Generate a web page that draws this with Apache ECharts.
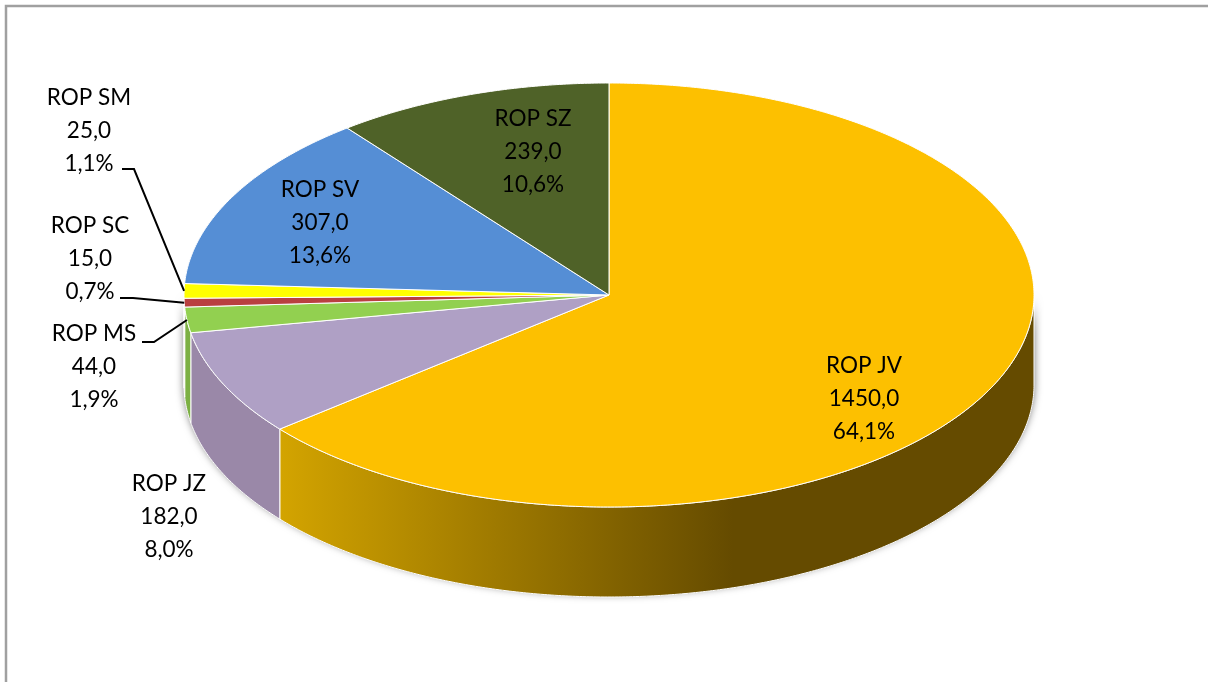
<!DOCTYPE html>
<html>
<head>
<meta charset="utf-8">
<style>
  html, body { margin: 0; padding: 0; background: #fff; }
  #chart { width: 1208px; height: 682px; }
</style>
<script src="https://cdn.jsdelivr.net/npm/echarts@6/dist/echarts.min.js"></script>
</head>
<body>
<div id="chart"></div>
<script>
const categories = ['ROP JV', 'ROP JZ', 'ROP MS', 'ROP SC', 'ROP SM', 'ROP SV', 'ROP SZ']
const values = [1450, 182, 44, 15, 25, 307, 239]

const topColors = ['#fdc000', '#afa0c5', '#92d050', '#b94040', '#ffff00', '#558ed5', '#4f6228']
const wallColors = ['#fdc000', '#9a88a8', '#7cb043', '#a03636', '#dcdc00', '#4a7cba', '#445522']

// block centres of the labels, and the elbow of the leader line when there is one
const labelPos = [[864, 399], [169, 517], [94, 367], [90, 259], [89, 131], [320, 223], [533, 152]]
const leaderStart = [null, null, [142, 342], [120, 298], [122, 169], null, null]
const leaderElbow = [null, null, [154, 342], [133, 298], [134, 169], null, null]

// ellipse of the tilted pie
const cx = 609
const cy = 295
const rx = 425
const ry = 212
const depth = 90

const total = values.reduce((a, b) => a + b, 0)

// slice start/end angles, clockwise from 12 o'clock, in radians
const angles = []
let acc = 0
values.forEach((v) => {
  const start = (acc / total) * Math.PI * 2
  acc += v
  angles.push([start, (acc / total) * Math.PI * 2])
})

const rim = (t, dy = 0) => [cx + rx * Math.sin(t), cy - ry * Math.cos(t) + dy]

const arc = (from, to, dy = 0) => {
  const steps = Math.max(2, Math.ceil(Math.abs(to - from) * 120))
  const pts = []
  for (let i = 0; i <= steps; i++) {
    pts.push(rim(from + ((to - from) * i) / steps, dy))
  }
  return pts
}

const fmt = (n, digits) => n.toFixed(digits).replace('.', ',')

const renderShadow = () => ({
  type: 'polygon',
  shape: { points: arc(Math.PI / 2, Math.PI * 1.5, 0).concat(arc(Math.PI * 1.5, Math.PI / 2, depth)) },
  style: {
    fill: '#777',
    shadowBlur: 9,
    shadowColor: 'rgba(0,0,0,0.6)',
    shadowOffsetY: -3
  }
})

const renderWall = (params) => {
  const i = params.dataIndex
  const from = Math.max(angles[i][0], Math.PI / 2)
  const to = Math.min(angles[i][1], Math.PI * 1.5)
  if (to <= from) return null
  let fill = wallColors[i]
  if (i === 0) {
    // the big slice fades from the lit left end to a dark flat brown
    fill = new echarts.graphic.LinearGradient(280, 0, 1034, 0, [
      { offset: 0, color: '#d3a400' },
      { offset: 0.6, color: '#654b00' },
      { offset: 1, color: '#654b00' }
    ], true)
  }
  return {
    type: 'polygon',
    shape: { points: arc(from, to, 0).concat(arc(to, from, depth)) },
    style: { fill: fill, stroke: '#fff', lineWidth: 1 }
  }
}

const renderTop = (params) => {
  const i = params.dataIndex
  return {
    type: 'polygon',
    shape: { points: [[cx, cy]].concat(arc(angles[i][0], angles[i][1])) },
    style: { fill: topColors[i], stroke: '#fff', lineWidth: 1, lineJoin: 'round' }
  }
}

const renderLabel = (params, api) => {
  const i = params.dataIndex
  const v = api.value(0)
  const children = [{
    type: 'text',
    x: labelPos[i][0],
    y: labelPos[i][1],
    style: {
      text: categories[i] + '\n' + fmt(v, 1) + '\n' + fmt((v / total) * 100, 1) + '%',
      fill: '#000',
      font: '22.5px Lato',
      lineHeight: 33,
      align: 'center',
      verticalAlign: 'middle'
    }
  }]
  if (leaderStart[i]) {
    children.push({
      type: 'polyline',
      shape: { points: [leaderStart[i], leaderElbow[i], rim((angles[i][0] + angles[i][1]) / 2)] },
      style: { fill: null, stroke: '#000', lineWidth: 2 }
    })
  }
  return { type: 'group', children: children }
}

const chart = echarts.init(document.getElementById('chart'))
chart.setOption({
  animation: false,
  backgroundColor: '#fff',
  graphic: [{
    type: 'polyline',
    silent: true,
    shape: { points: [[6, 682], [6, 6], [1208, 6]] },
    style: { fill: null, stroke: '#a0a0a0', lineWidth: 2.5 }
  }],
  series: [
    { type: 'custom', coordinateSystem: 'none', silent: true, z: 1, data: [total], renderItem: renderShadow },
    { type: 'custom', coordinateSystem: 'none', silent: true, z: 2, data: values, renderItem: renderWall },
    { type: 'custom', coordinateSystem: 'none', silent: true, z: 3, data: values, renderItem: renderTop },
    { type: 'custom', coordinateSystem: 'none', silent: true, z: 4, data: values, renderItem: renderLabel }
  ]
})
</script>
</body>
</html>
